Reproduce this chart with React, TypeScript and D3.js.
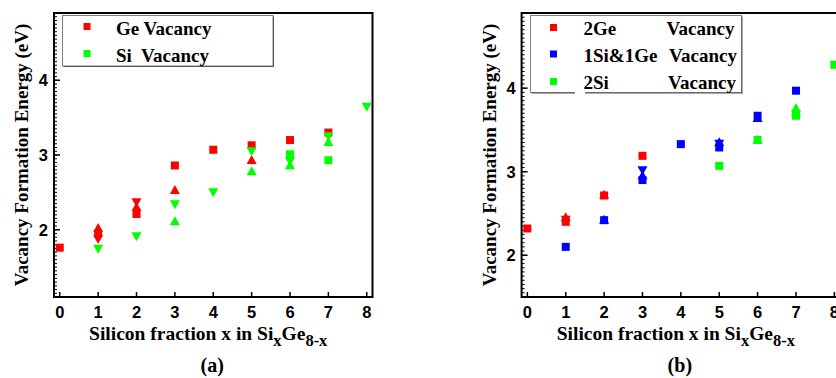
import React from 'react';
import * as d3 from 'd3';

type Pt = [number, number];

const X_TICKS = [0, 1, 2, 3, 4, 5, 6, 7, 8];
const Y_TICKS = [2, 3, 4];

// Panel (a): single vacancies
const aGeSquare: Pt[] = [[0, 1.76], [1, 1.95], [2, 2.21], [3, 2.86], [4, 3.07], [5, 3.13], [6, 3.2], [7, 3.3]];
const aGeUp: Pt[] = [[1, 2.03], [2, 2.31], [3, 2.54], [5, 2.94]];
const aGeDown: Pt[] = [[1, 1.87], [2, 2.36]];
const aSiSquare: Pt[] = [[6, 3.01], [7, 2.93]];
const aSiUp: Pt[] = [[3, 2.12], [5, 2.79], [6, 2.87], [7, 3.18]];
const aSiDown: Pt[] = [[1, 1.74], [2, 1.905], [3, 2.335], [4, 2.495], [5, 3.045], [6, 2.91], [7, 3.245], [8, 3.64]];

// Panel (b): divacancies
const b2GeSquare: Pt[] = [[0, 2.32], [1, 2.4], [2, 2.715], [3, 3.19]];
const b2GeUp: Pt[] = [[1, 2.46], [2, 2.73]];
const b2GeDown: Pt[] = [[1, 2.42]];
const bMixSquare: Pt[] = [[1, 2.1], [2, 2.42], [3, 2.9], [4, 3.33], [5, 3.29], [6, 3.67], [7, 3.97]];
const bMixUp: Pt[] = [[2, 2.43], [3, 2.96], [5, 3.36], [6, 3.65]];
const bMixDown: Pt[] = [[3, 3.01], [5, 3.33]];
const b2SiSquare: Pt[] = [[5, 3.07], [6, 3.38], [7, 3.67], [8, 4.28]];
const b2SiUp: Pt[] = [[6, 3.39], [7, 3.72], [7, 3.77]];

const RED = '#ff0000';
const GREEN = '#00ff00';
const BLUE = '#0000ff';

const SERIF = '"Liberation Serif", "Times New Roman", serif';
const SANS = '"Liberation Sans", Arial, sans-serif';

interface Layer { pts: Pt[]; shape: 'sq' | 'up' | 'down'; color: string }

function Marker({ cx, cy, shape, color }: { cx: number; cy: number; shape: string; color: string }) {
  if (shape === 'sq') return <rect x={cx - 4} y={cy - 4} width={8} height={8} fill={color} />;
  const w = 5, h = 4.5;
  const d = shape === 'up'
    ? `M${cx},${cy - h}L${cx + w},${cy + h}L${cx - w},${cy + h}Z`
    : `M${cx},${cy + h}L${cx + w},${cy - h}L${cx - w},${cy - h}Z`;
  return <path d={d} fill={color} />;
}

function Panel({ left, yDomain, layers, label, yTitleX, legend }: {
  left: number; yDomain: [number, number]; layers: Layer[]; label: string; yTitleX: number; legend: React.ReactNode;
}) {
  const top = 13, bottom = 297;
  const x = d3.scaleLinear().domain([-0.15, 8.15]).range([left, left + 318.5]);
  const y = d3.scaleLinear().domain(yDomain).range([bottom, top]);
  const minor = d3.range(Math.ceil(yDomain[0] / 0.05), Math.floor(yDomain[1] / 0.05) + 1).map(i => i * 0.05);
  const right = left + 318.5;
  const cx = (x(0) + x(8)) / 2 - 5;
  return (
    <g>
      {minor.map((v, i) => (
        <line key={'m' + i} x1={left} x2={left + 3} y1={y(v)} y2={y(v)} stroke="#000" strokeWidth={1} />
      ))}
      {Y_TICKS.map(v => (
        <g key={'y' + v}>
          <line x1={left} x2={left + 6} y1={y(v)} y2={y(v)} stroke="#000" strokeWidth={1.5} />
          <text x={left - 6} y={y(v) + 6} textAnchor="end" fontFamily={SANS} fontWeight="bold" fontSize={16.5}>{v}</text>
        </g>
      ))}
      {X_TICKS.map(v => (
        <g key={'x' + v}>
          <line x1={x(v)} x2={x(v)} y1={bottom} y2={bottom - 5} stroke="#000" strokeWidth={1.5} />
          <text x={x(v)} y={317.5} textAnchor="middle" fontFamily={SANS} fontWeight="bold" fontSize={16.5}>{v}</text>
        </g>
      ))}
      <rect x={left} y={top} width={right - left} height={bottom - top} fill="none" stroke="#000" strokeWidth={2} />
      {legend}
      {layers.map((l, i) => l.pts.map((p, j) => (
        <Marker key={i + '-' + j} cx={x(p[0])} cy={y(p[1])} shape={l.shape} color={l.color} />
      )))}
      <text transform={`translate(${yTitleX},155) rotate(-90)`} textAnchor="middle" fontFamily={SERIF} fontWeight="bold" fontSize={19}>
        Vacancy Formation Energy (eV)
      </text>
      <text x={cx} y={339.5} textAnchor="middle" fontFamily={SERIF} fontWeight="bold" fontSize={19.5}>
        Silicon fraction x in Si<tspan fontSize={16.5} dy={6}>x</tspan><tspan dy={-6}>Ge</tspan><tspan fontSize={16.5} dy={6}>8-x</tspan>
      </text>
      <text x={cx + 4} y={372} textAnchor="middle" fontFamily={SERIF} fontWeight="bold" fontSize={20}>{label}</text>
    </g>
  );
}

function LegendBox({ x0, y0, w, h, gap }: { x0: number; y0: number; w: number; h: number; gap?: [number, number] }) {
  return (
    <g>
      <rect x={x0} y={y0} width={w} height={h} fill="#fff" stroke="#808080" strokeWidth={1} />
      <line x1={x0 + w + 0.5} x2={x0 + w + 0.5} y1={y0 + 1} y2={y0 + h + 1} stroke="#555" strokeWidth={1} />
      <line x1={x0 + 1} x2={x0 + w + 1} y1={y0 + h + 0.5} y2={y0 + h + 0.5} stroke="#555" strokeWidth={1} />
      {gap && <line x1={gap[0]} x2={gap[1]} y1={y0 + h} y2={y0 + h} stroke="#fff" strokeWidth={3} />}
    </g>
  );
}

const tStyle = { fontFamily: SERIF, fontWeight: 'bold' as const, fontSize: 19, whiteSpace: 'pre' as const };

export default function App() {
  const legendA = (
    <g>
      <LegendBox x0={62.5} y0={15.5} w={210.5} h={50.5} />
      <rect x={83.5} y={23} width={7} height={7} fill={RED} />
      <rect x={83.5} y={50} width={7} height={7} fill={GREEN} />
      <text x={116} y={34.5} style={tStyle}>Ge Vacancy</text>
      <text x={116} y={61.5} style={tStyle}>Si  Vacancy</text>
    </g>
  );
  const legendB = (
    <g>
      <LegendBox x0={530.5} y0={15.5} w={211} h={77} gap={[575, 585]} />
      <rect x={550} y={24} width={7} height={7} fill={RED} />
      <rect x={550} y={50.5} width={7} height={7} fill={BLUE} />
      <rect x={550} y={78} width={7} height={7} fill={GREEN} />
      <text x={583.5} y={34.5} style={tStyle}>2Ge</text>
      <text x={666.5} y={34.5} style={tStyle}>Vacancy</text>
      <text x={583.5} y={61.5} style={tStyle}>1Si&amp;1Ge</text>
      <text x={669} y={61.5} style={tStyle}>Vacancy</text>
      <text x={583.5} y={88.5} style={tStyle}>2Si</text>
      <text x={668} y={88.5} style={tStyle}>Vacancy</text>
    </g>
  );
  return (
    <svg width={836} height={378} style={{ position: 'absolute', left: 0, top: 0, background: '#fff' }}>
      <rect x={0} y={0} width={836} height={378} fill="#fff" />
      <Panel
        left={54}
        yDomain={[1.1, 4.9]}
        label="(a)"
        yTitleX={27.5}
        legend={legendA}
        layers={[
          { pts: aGeSquare, shape: 'sq', color: RED },
          { pts: aGeUp, shape: 'up', color: RED },
          { pts: aGeDown, shape: 'down', color: RED },
          { pts: aSiSquare, shape: 'sq', color: GREEN },
          { pts: aSiUp, shape: 'up', color: GREEN },
          { pts: aSiDown, shape: 'down', color: GREEN },
        ]}
      />
      <Panel
        left={521.6}
        yDomain={[1.5, 4.9]}
        label="(b)"
        yTitleX={496}
        legend={legendB}
        layers={[
          { pts: b2GeSquare, shape: 'sq', color: RED },
          { pts: b2GeUp, shape: 'up', color: RED },
          { pts: b2GeDown, shape: 'down', color: RED },
          { pts: bMixSquare, shape: 'sq', color: BLUE },
          { pts: bMixUp, shape: 'up', color: BLUE },
          { pts: bMixDown, shape: 'down', color: BLUE },
          { pts: b2SiSquare, shape: 'sq', color: GREEN },
          { pts: b2SiUp, shape: 'up', color: GREEN },
        ]}
      />
    </svg>
  );
}
